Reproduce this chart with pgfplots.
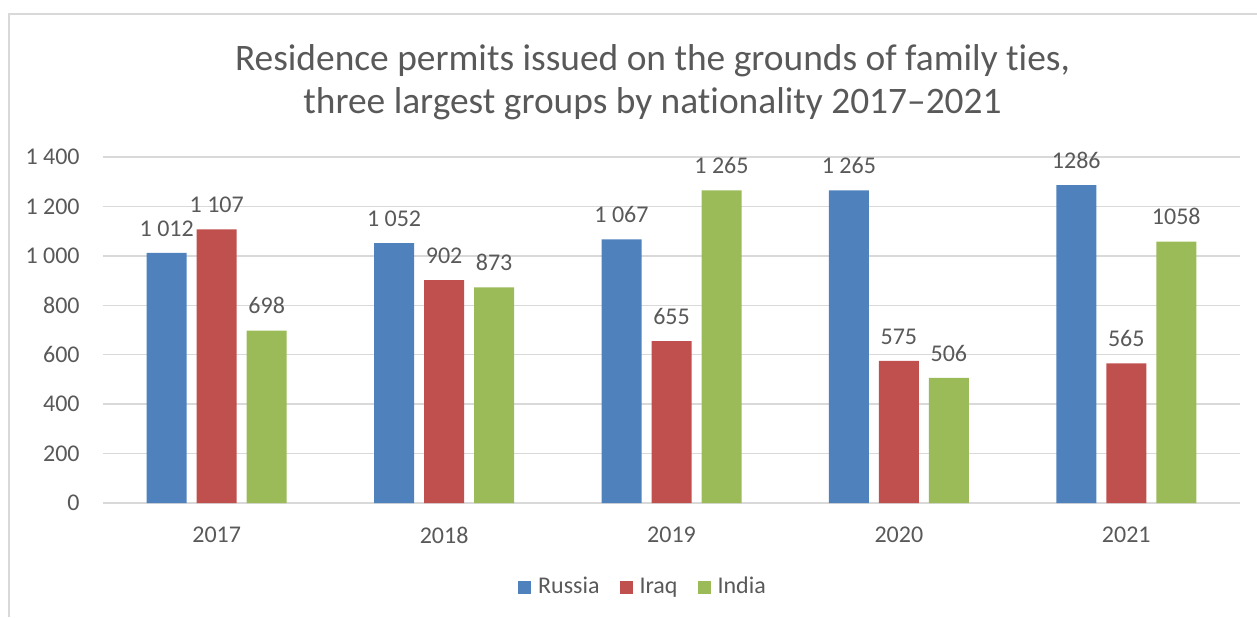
\documentclass[border=0pt]{standalone}
\usepackage{fontspec}
\setmainfont{Carlito}[Ligatures={TeX,NoCommon}]
\usepackage{pgfplots}
\pgfplotsset{compat=1.18}
\definecolor{txt}{HTML}{595959}
\definecolor{gridc}{HTML}{D9D9D9}
\definecolor{russia}{HTML}{4F81BD}
\definecolor{iraq}{HTML}{C0504D}
\definecolor{india}{HTML}{9BBB59}

\begin{document}
\begin{tikzpicture}[x=1pt,y=1pt]
\useasboundingbox (-51.5,-57) rectangle (577,251.5);
% chart frame
\draw[gridc, line width=1pt] (-47,-57) -- (-47,244.5) -- (577,244.5);
% title
\node[anchor=base, text=txt, font=\fontsize{18.7}{22}\selectfont] at (274.75,216) {Residence permits issued on the grounds of family ties,};
\node[anchor=base, text=txt, font=\fontsize{18.7}{22}\selectfont] at (274.75,195) {three largest groups by nationality 2017--2021};
\begin{axis}[
    at={(0,0)}, anchor=south west,
    width=568.5pt, height=173pt, scale only axis,
    ybar=5pt, bar width=20pt,
    xmin=-0.5, xmax=4.5,
    ymin=0, ymax=1400,
    xtick={0,1,2,3,4},
    xticklabels={2017,2018,2019,2020,2021},
    ytick={0,200,400,600,800,1000,1200,1400},
    yticklabels={0,200,400,600,800,1 000,1 200,1 400},
    major tick length=0pt,
    axis line style={draw=none},
    ymajorgrids=true,
    grid style={gridc, line width=0.75pt},
    tick label style={font=\fontsize{12}{14}\selectfont, text=txt},
    yticklabel style={anchor=east, inner sep=0pt, xshift=-11.5pt},
    xticklabel style={anchor=north, inner sep=0pt, yshift=-12pt},
    point meta=explicit symbolic,
    nodes near coords,
    every node near coord/.append style={anchor=south, inner sep=0pt, yshift=8pt,
        font=\fontsize{12}{14}\selectfont, text=txt},
    legend style={at={(axis description cs:0.4758,-0.2428)}, anchor=center,
        draw=none, fill=none, legend columns=3,
        font=\fontsize{12}{14}\selectfont, text=txt,
        /tikz/every odd column/.append style={column sep=1.5pt},
        /tikz/every even column/.append style={column sep=8pt}},
    legend image code/.code={\fill[#1] (0pt,-3.25pt) rectangle (6.5pt,3.25pt);},
]
\addplot[fill=russia, draw=none] coordinates {(0,1012) [1 012] (1,1052) [1 052] (2,1067) [1 067] (3,1265) [1 265] (4,1286) [1286]};
\addplot[fill=iraq, draw=none] coordinates {(0,1107) [1 107] (1,902) [902] (2,655) [655] (3,575) [575] (4,565) [565]};
\addplot[fill=india, draw=none] coordinates {(0,698) [698] (1,873) [873] (2,1265) [1 265] (3,506) [506] (4,1058) [1058]};
\legend{Russia,Iraq,India}
\end{axis}
\end{tikzpicture}
\end{document}
